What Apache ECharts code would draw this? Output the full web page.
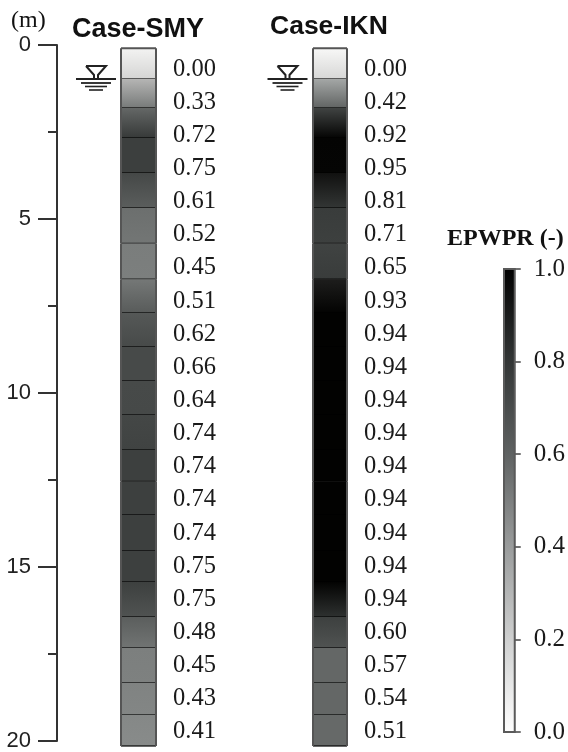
<!DOCTYPE html>
<html><head><meta charset="utf-8">
<style>html,body{margin:0;padding:0;background:#fff}#c{width:568px;height:752px}</style>
<script src="https://cdn.jsdelivr.net/npm/echarts@6/dist/echarts.min.js"></script>
</head><body><div id="c"></div>
<script>
const layerEdges = [0.09,0.97,1.8,2.66,3.66,4.66,5.67,6.69,7.66,8.63,9.6,10.57,11.57,12.47,13.43,14.46,15.34,16.34,17.23,18.23,19.14,20.03];
const smyValues = [0.00,0.33,0.72,0.75,0.61,0.52,0.45,0.51,0.62,0.66,0.64,0.74,0.74,0.74,0.74,0.75,0.75,0.48,0.45,0.43,0.41];
const iknValues = [0.00,0.42,0.92,0.95,0.81,0.71,0.65,0.93,0.94,0.94,0.94,0.94,0.94,0.94,0.94,0.94,0.94,0.60,0.57,0.54,0.51];
// EPWPR shade at the top and bottom edge of each layer
const smyShadeTop = [0.05,0.27,0.55,0.75,0.68,0.52,0.46,0.48,0.60,0.66,0.66,0.69,0.74,0.74,0.74,0.74,0.74,0.58,0.45,0.43,0.41];
const smyShadeBot = [0.17,0.47,0.77,0.75,0.58,0.49,0.45,0.59,0.66,0.66,0.67,0.72,0.74,0.74,0.74,0.74,0.62,0.50,0.44,0.42,0.40];
const iknShadeTop = [0.03,0.32,0.72,0.96,0.90,0.76,0.72,0.86,0.98,0.98,0.98,0.98,0.98,0.98,0.98,0.98,0.97,0.74,0.55,0.55,0.54];
const iknShadeBot = [0.16,0.56,0.96,0.95,0.78,0.74,0.76,0.97,0.98,0.98,0.98,0.98,0.98,0.98,0.98,0.98,0.80,0.62,0.55,0.55,0.54];
const waterDepth = [1.0];
const depthTicks = {min:0,max:20,major:5};
const barTicks = {min:0,max:1,step:0.2};
const shadeScale = [[0,255],[0.2,205],[0.41,133],[0.52,108],[0.64,74],[0.75,60],[0.94,6],[1,0]];
const barScale = [[0,'#ffffff'],[0.2,'#cfd0d0'],[0.4,'#9a9c9c'],[0.6,'#5f6262'],[0.8,'#333636'],[1,'#000000']];

function shade(v){
  for(let i=1;i<shadeScale.length;i++){
    if(v<=shadeScale[i][0]){
      const a=shadeScale[i-1],b=shadeScale[i];
      const g=Math.round(a[1]+(b[1]-a[1])*(v-a[0])/(b[0]-a[0]));
      const t=(g>30&&g<170)?3:0;
      return `rgb(${g},${g+t},${Math.max(0,g+t-1)})`;
    }
  }
  return '#000';
}
function layerData(top,bot){
  return top.map((t,i)=>[0,layerEdges[i],layerEdges[i+1],t,bot[i]]);
}
function renderLayer(params,api){
  const a=api.coord([0,api.value(1)]), b=api.coord([0,api.value(2)]);
  const w=api.size([1,0])[0];
  const x0=a[0]-w/2, x1=a[0]+w/2;
  const children=[
    {type:'rect',shape:{x:x0,y:a[1],width:w,height:b[1]-a[1]},
     style:{fill:new echarts.graphic.LinearGradient(0,0,0,1,[{offset:0,color:shade(api.value(3))},{offset:1,color:shade(api.value(4))}])}},
    {type:'line',shape:{x1:x0,y1:b[1],x2:x1,y2:b[1]},style:{stroke:'#000',opacity:0.78,lineWidth:1.5}},
    {type:'line',shape:{x1:x0,y1:a[1],x2:x0,y2:b[1]},style:{stroke:'#555',lineWidth:2}},
    {type:'line',shape:{x1:x1,y1:a[1],x2:x1,y2:b[1]},style:{stroke:'#555',lineWidth:2}}
  ];
  if(params.dataIndex===0) children.push({type:'line',shape:{x1:x0,y1:a[1],x2:x1,y2:a[1]},style:{stroke:'#555',lineWidth:2}});
  return {type:'group',children};
}
function renderWater(params,api){
  const p=api.coord([0,api.value(1)]);
  const cx=p[0]-42.5, y=p[1]-1;
  const st={stroke:'#222',lineWidth:2,fill:null};
  return {type:'group',children:[
    {type:'line',shape:{x1:cx-20,y1:y,x2:cx+20,y2:y},style:{stroke:'#222',lineWidth:2}},
    {type:'line',shape:{x1:cx-15,y1:y+4,x2:cx+15,y2:y+4},style:{stroke:'#222',lineWidth:1.8}},
    {type:'line',shape:{x1:cx-11,y1:y+7.5,x2:cx+11,y2:y+7.5},style:{stroke:'#222',lineWidth:1.6}},
    {type:'line',shape:{x1:cx-7,y1:y+11,x2:cx+7,y2:y+11},style:{stroke:'#222',lineWidth:1.6}},
    {type:'polyline',shape:{points:[[cx-10,y-13],[cx+10,y-13],[cx+2,y-4],[cx+2,y],[cx-2,y],[cx-2,y-4],[cx-10,y-13]]},style:st}
  ]};
}
function renderBar(params,api){
  const a=api.coord([0,api.value(2)]), b=api.coord([0,api.value(1)]);
  const w=api.size([1,0])[0];
  const stops=barScale.map(s=>({offset:1-s[0],color:s[1]})).reverse();
  return {type:'rect',shape:{x:a[0]-w/2,y:a[1],width:w,height:b[1]-a[1]},
    style:{fill:new echarts.graphic.LinearGradient(0,0,0,1,stops),stroke:'#5a5a5a',lineWidth:2}};
}
const serif='"Liberation Serif","Times New Roman",serif';
const sans='"Liberation Sans",Arial,sans-serif';
const hiddenY=(g)=>({type:'value',gridIndex:g,min:depthTicks.min,max:depthTicks.max,inverse:true,show:false});
const hiddenX=(g)=>({type:'category',gridIndex:g,data:['c'],show:false});
const valueAxis=(g,vals)=>({type:'category',gridIndex:g,inverse:true,position:'right',data:vals.map(v=>v.toFixed(2)),
  axisLine:{show:false},axisTick:{show:false},
  axisLabel:{show:true,interval:0,margin:17,fontFamily:serif,fontSize:24.5,color:'#1a1a1a'}});

const option={
  animation:false,
  backgroundColor:'#fff',
  title:[
    {text:'Case-SMY',left:72,top:16,padding:0,textStyle:{fontFamily:sans,fontWeight:'bold',fontSize:27,color:'#111'}},
    {text:'Case-IKN',left:270,top:13,padding:0,textStyle:{fontFamily:sans,fontWeight:'bold',fontSize:26.5,color:'#111'}},
    {text:'(m)',left:11,top:9,padding:0,textStyle:{fontFamily:serif,fontWeight:'normal',fontSize:24,color:'#111'}},
    {text:'EPWPR (-)',left:447,top:227,padding:0,textStyle:{fontFamily:serif,fontWeight:'bold',fontSize:24,color:'#111'}}
  ],
  grid:[
    {left:57,top:45,width:2,height:700},
    {left:121,top:45,width:35,height:700},
    {left:313,top:45,width:34,height:700},
    {left:121,top:52.5,width:35,height:696},
    {left:313,top:52.5,width:34,height:696},
    {left:504,top:269,width:13,height:463}
  ],
  xAxis:[0,1,2,3,4,5].map(hiddenX),
  yAxis:[
    {type:'value',gridIndex:0,min:depthTicks.min,max:depthTicks.max,interval:depthTicks.major,inverse:true,position:'left',
     axisLine:{show:true,lineStyle:{color:'#333',width:2}},
     axisTick:{show:true,length:19,lineStyle:{color:'#333',width:2}},
     minorTick:{show:true,splitNumber:2,length:9,lineStyle:{color:'#333',width:2}},
     splitLine:{show:false},
     axisLabel:{margin:26,fontFamily:sans,fontSize:22,color:'#222',padding:[3,0,0,0]}},
    hiddenY(1),hiddenY(2),
    valueAxis(3,smyValues),valueAxis(4,iknValues),
    {type:'value',gridIndex:5,min:barTicks.min,max:barTicks.max,interval:barTicks.step,position:'right',
     axisLine:{show:false},
     axisTick:{show:true,length:6,lineStyle:{color:'#444',width:1.5}},
     splitLine:{show:false},
     axisLabel:{margin:19,fontFamily:serif,fontSize:25,color:'#1a1a1a',formatter:v=>v.toFixed(1)}}
  ],
  series:[
    {type:'custom',xAxisIndex:1,yAxisIndex:1,coordinateSystem:'cartesian2d',clip:false,renderItem:renderLayer,data:layerData(smyShadeTop,smyShadeBot),silent:true},
    {type:'custom',xAxisIndex:2,yAxisIndex:2,coordinateSystem:'cartesian2d',clip:false,renderItem:renderLayer,data:layerData(iknShadeTop,iknShadeBot),silent:true},
    {type:'custom',xAxisIndex:1,yAxisIndex:1,coordinateSystem:'cartesian2d',clip:false,renderItem:renderWater,data:waterDepth.map(d=>[0,d]),silent:true},
    {type:'custom',xAxisIndex:2,yAxisIndex:2,coordinateSystem:'cartesian2d',clip:false,renderItem:renderWater,data:waterDepth.map(d=>[0,d]),silent:true},
    {type:'custom',xAxisIndex:5,yAxisIndex:5,coordinateSystem:'cartesian2d',clip:false,renderItem:renderBar,data:[[0,barTicks.min,barTicks.max]],silent:true}
  ]
};
echarts.init(document.getElementById('c'),null,{renderer:'canvas'}).setOption(option);
</script></body></html>
